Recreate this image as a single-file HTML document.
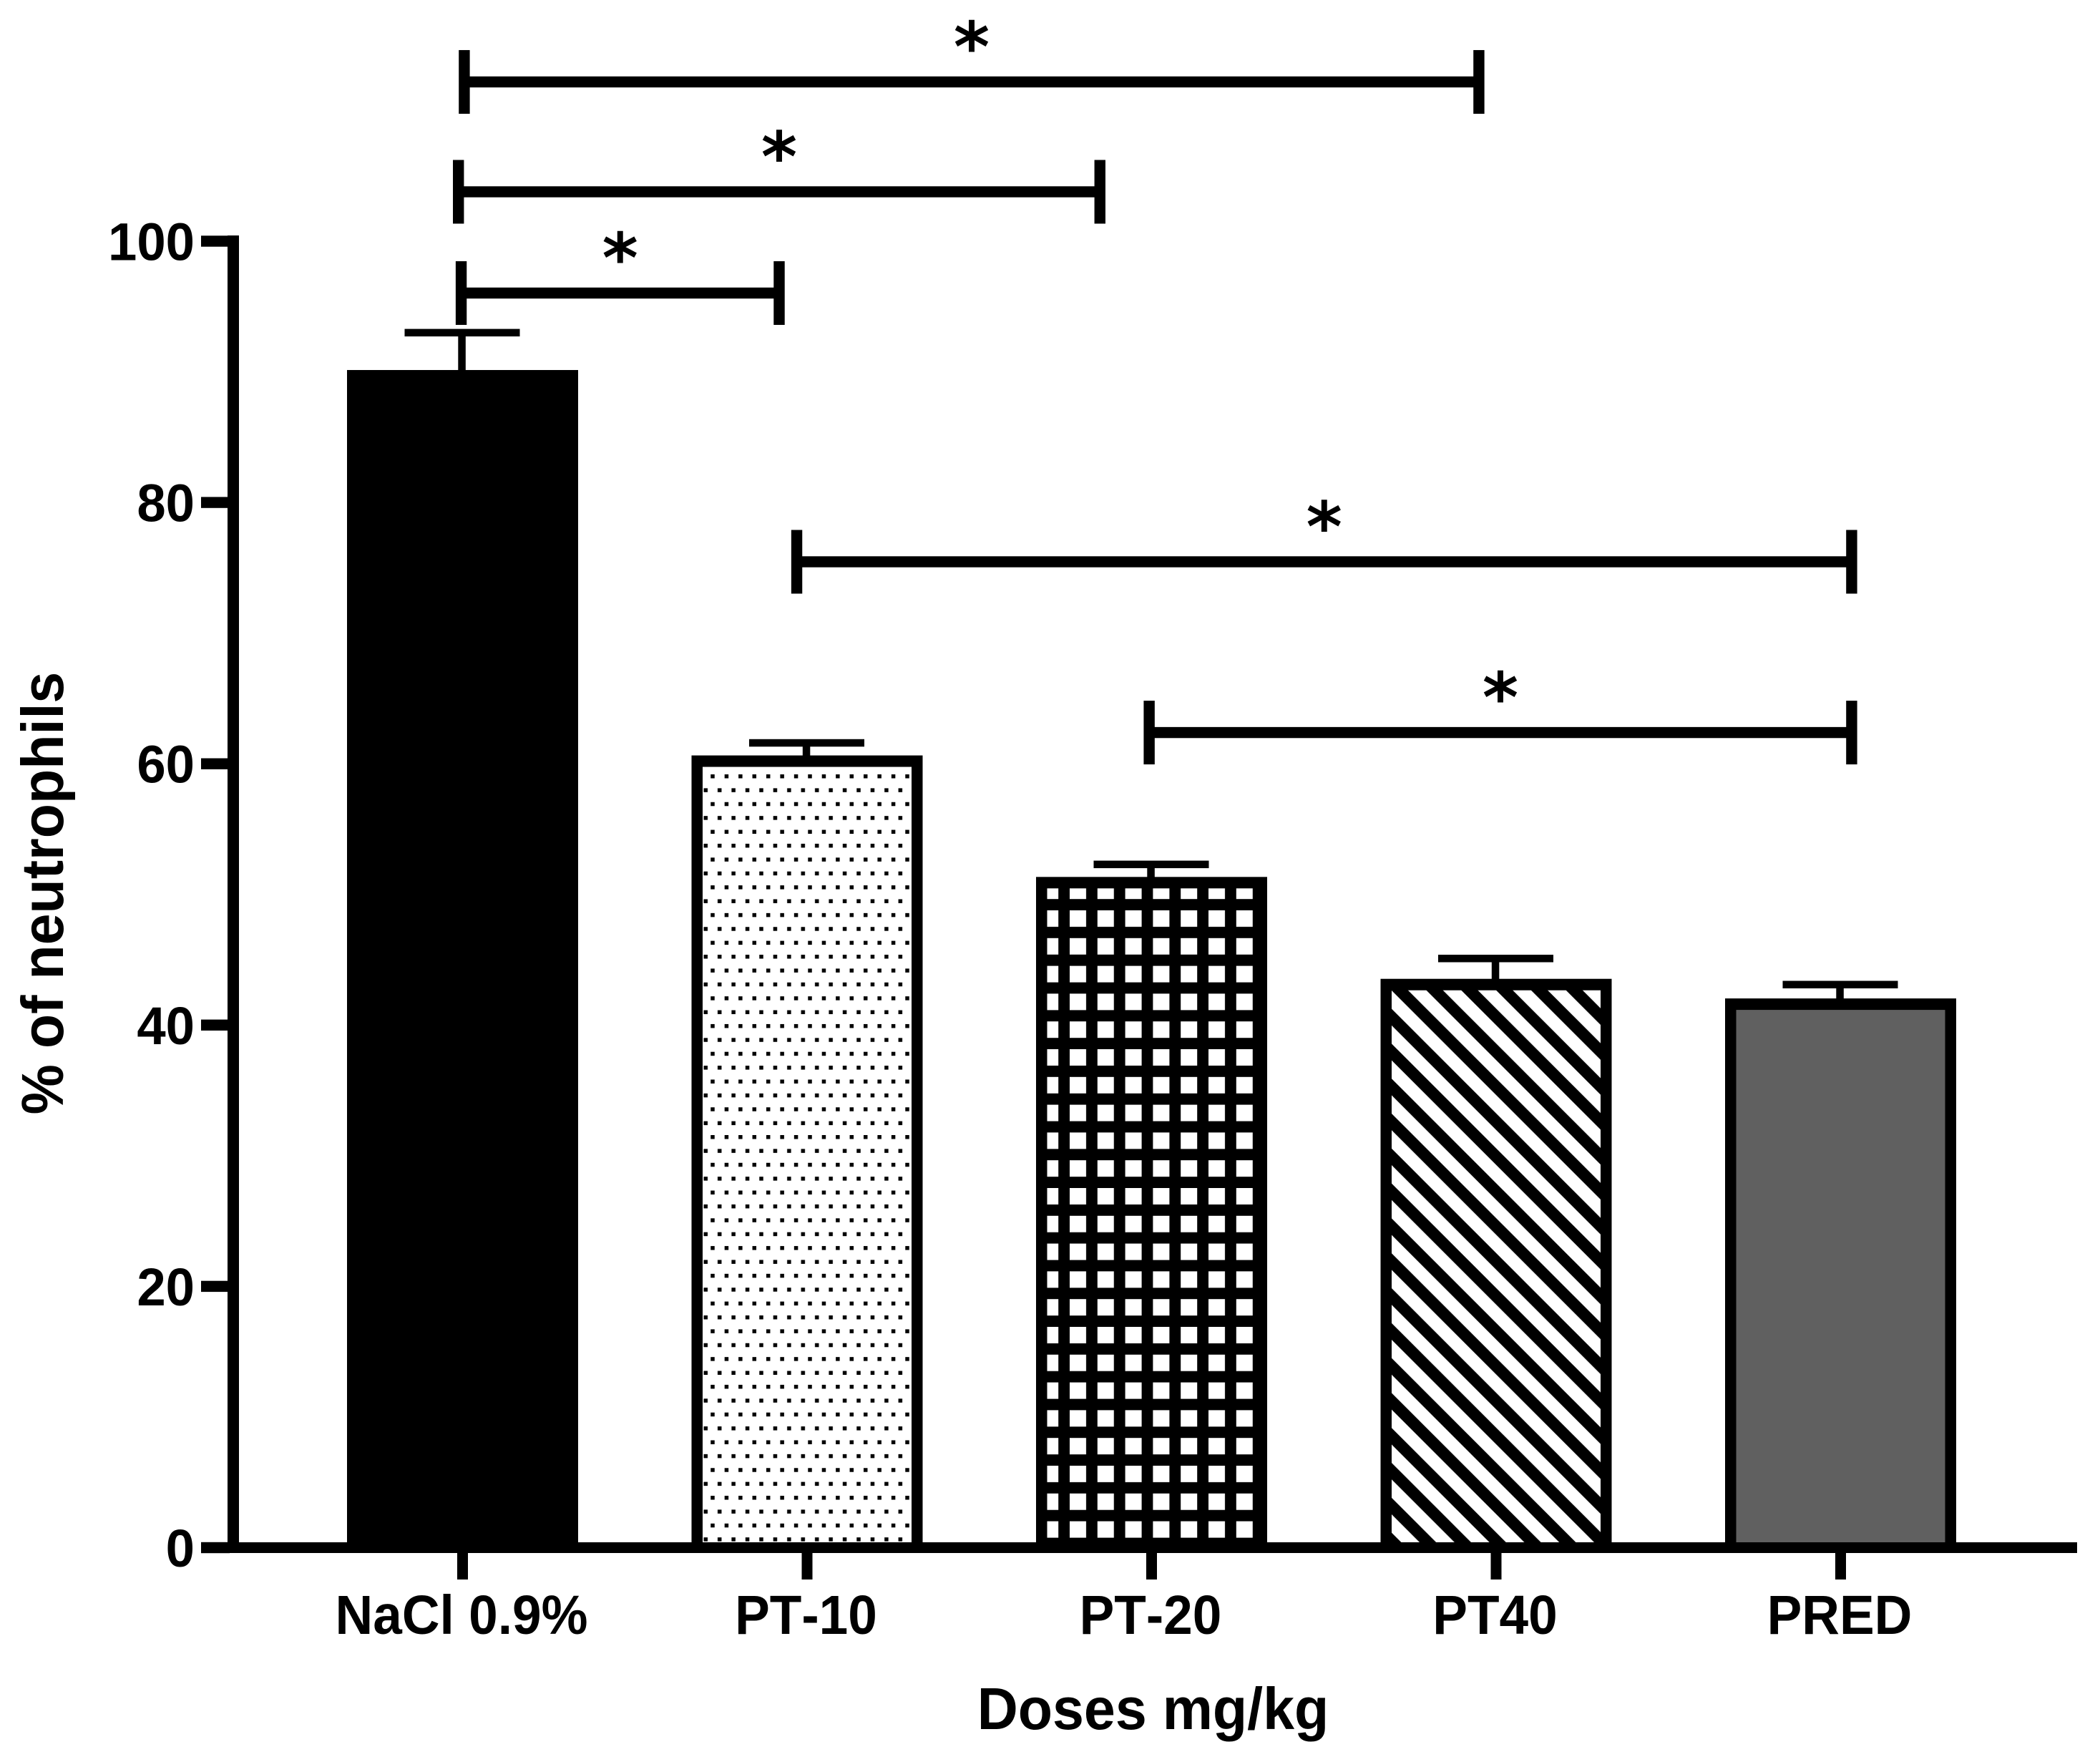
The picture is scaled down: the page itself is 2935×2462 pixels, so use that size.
<!DOCTYPE html>
<html lang="en">
<head>
<meta charset="utf-8">
<title>Percentage of neutrophils by dose</title>
<style>
html,body{margin:0;padding:0;background:#fff;}
svg{display:block;}
text{font-family:"Liberation Sans",Arial,sans-serif;font-weight:bold;fill:#000;font-kerning:none;}
.ast{font-family:"DejaVu Sans",sans-serif;}
</style>
</head>
<body>
<svg id="chart" xmlns="http://www.w3.org/2000/svg" width="2935" height="2462" viewBox="0 0 2935 2462">
  <defs>
    <pattern id="dots" patternUnits="userSpaceOnUse" x="993.25" y="1082" width="19.43" height="38.77">
      <rect width="19.43" height="38.77" fill="#fff"/>
      <rect x="0" y="0" width="5.5" height="5.5" fill="#000"/>
      <rect x="9.72" y="19.38" width="5.5" height="5.5" fill="#000"/>
    </pattern>
    <pattern id="grid" patternUnits="userSpaceOnUse" x="1495" y="1272" width="38.8" height="38.8">
      <rect width="38.8" height="38.8" fill="#000"/>
      <rect x="0" y="0" width="23" height="23" fill="#fff"/>
    </pattern>
    <pattern id="stripes" patternUnits="userSpaceOnUse" x="1945" y="1384" width="48.8" height="48.8">
      <rect width="48.8" height="48.8" fill="#000"/>
      <polygon points="0,0 48.8,48.8 23.2,48.8 0,25.6" fill="#fff"/>
      <polygon points="23.2,0 48.8,0 48.8,25.6" fill="#fff"/>
    </pattern>
  </defs>
</svg>
<script>
const categories = ["NaCl 0.9%", "PT-10", "PT-20", "PT40", "PRED"];
const barNames = ["nacl", "pt-10", "pt-20", "pt40", "pred"];
const means = [89.7, 60.2, 50.9, 43.1, 41.6];
const errors = [3.3, 1.4, 1.4, 2.0, 1.5];
const barFills = ["#000", "url(#dots)", "url(#grid)", "url(#stripes)", "#606060"];
const yTickValues = [0, 20, 40, 60, 80, 100];
const bracketFrom = [0.005, -0.012, -0.004, 0.970, 1.993];
const bracketTo = [2.950, 1.850, 0.919, 4.032, 4.032];
const bracketLevel = [112.19, 103.78, 96.03, 75.46, 62.39];

const svg = document.getElementById('chart');
const NS = 'http://www.w3.org/2000/svg';
function xScale(i) { return 646.5 + 481.5 * i; }
function yScale(v) { return 2162.5 - 18.255 * v; }
function make(tag, attrs, parent) {
  const el = document.createElementNS(NS, tag);
  for (const k in attrs) el.setAttribute(k, attrs[k]);
  (parent || svg).appendChild(el);
  return el;
}

/* bars and error bars */
means.forEach(function (m, i) {
  const cx = xScale(i);
  const top = yScale(m);
  const base = yScale(0);

  const g = make('g', {});
  
  

  const stem = make('rect', { x: cx - 6.2, y: yScale(m + errors[i]), width: 10.5, height: top - yScale(m + errors[i]), fill: '#000' }, g);
  
  

  const cap = make('rect', { x: cx - 81, y: yScale(m + errors[i]) - 5.2, width: 161, height: 10.5, fill: '#000' }, g);
  
  

  const outer = make('rect', { x: cx - 161.5, y: top - 8, width: 323, height: base - top + 8, fill: '#000' }, g);
  
  

  const inner = make('rect', { x: cx - 146, y: top + 8, width: 292, height: base - top - 15.5, fill: barFills[i] }, g);
  
  
});

/* axes */
const yAxis = make('rect', { x: 318, y: yScale(100) - 8, width: 16, height: yScale(0) - yScale(100) + 15.5, fill: '#000' });



const xAxis = make('rect', { x: 281, y: yScale(0) - 7.5, width: 2622, height: 15, fill: '#000' });



yTickValues.forEach(function (v) {
  const tick = make('rect', { x: 281, y: yScale(v) - 7.7, width: 40, height: 15.4, fill: '#000' });
  
  

  const label = make('text', { 'text-anchor': 'end', 'font-size': 72.5, transform: 'translate(272 ' + (yScale(v) + 26.5) + ') scale(1 1.03)' });
  label.textContent = String(v);
  
  
});

categories.forEach(function (c, i) {
  const cx = xScale(i);
  const tick = make('rect', { x: cx - 7.5, y: 2170, width: 15, height: 37, fill: '#000' });
  
  

  const label = make('text', { 'text-anchor': 'middle', 'font-size': 73, transform: 'translate(' + (cx - 1.5) + ' 2283) scale(1 1.05)' });
  label.textContent = c;
  
  
});

/* significance brackets */
bracketLevel.forEach(function (lvl, i) {
  const x1 = xScale(bracketFrom[i]);
  const x2 = xScale(bracketTo[i]);
  const y = yScale(lvl);

  const g = make('g', {});
  
  

  const line = make('rect', { x: x1, y: y - 7.7, width: x2 - x1, height: 15.4, fill: '#000' }, g);
  
  

  const left = make('rect', { x: x1 - 7.7, y: y - 44.5, width: 15.4, height: 89, fill: '#000' }, g);
  
  

  const right = make('rect', { x: x2 - 7.7, y: y - 44.5, width: 15.4, height: 89, fill: '#000' }, g);
  
  

  const star = make('text', { class: 'ast', x: (x1 + x2) / 2, y: y - 15, 'text-anchor': 'middle', 'font-size': 96 }, g);
  star.textContent = '*';
  
  
});

/* axis titles */
const yTitle = make('text', { 'text-anchor': 'middle', 'font-size': 79, transform: 'translate(88 1248) rotate(-90) scale(1 1.04)' });
yTitle.textContent = '% of neutrophils';



const xTitle = make('text', { 'text-anchor': 'middle', 'font-size': 79, transform: 'translate(1611.5 2416) scale(1 1.05)' });
xTitle.textContent = 'Doses mg/kg';


</script>
</body>
</html>
